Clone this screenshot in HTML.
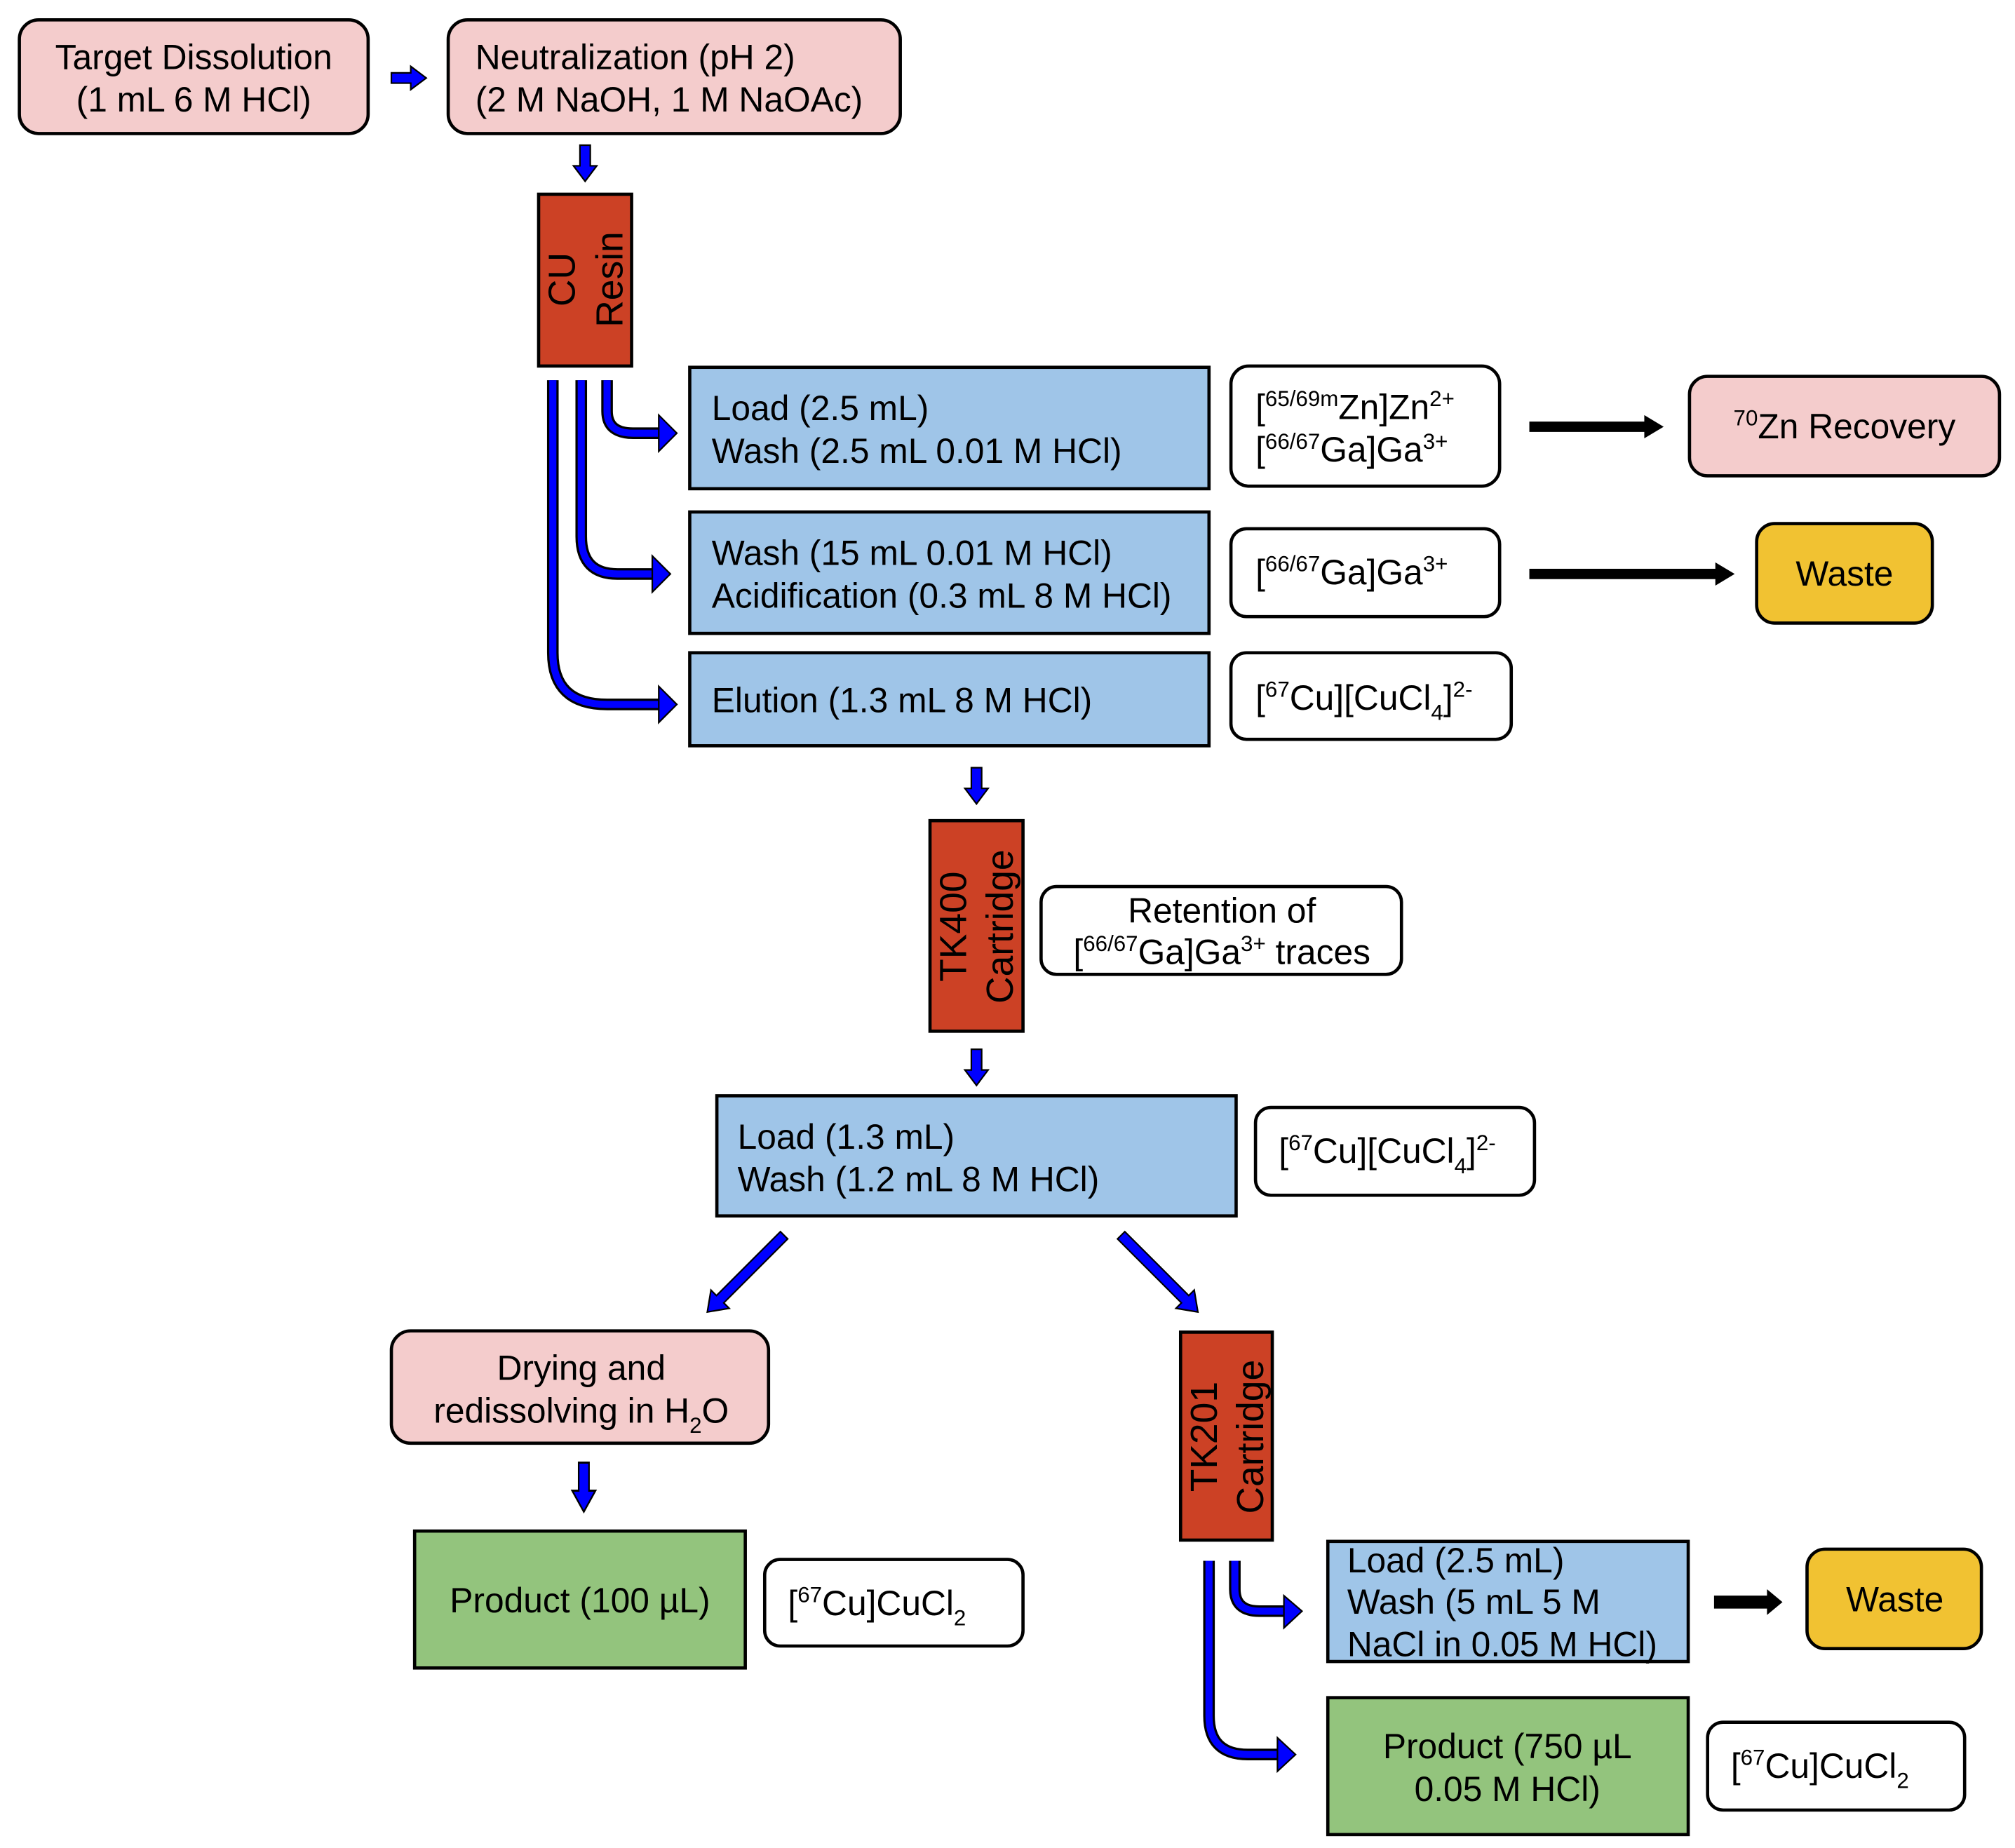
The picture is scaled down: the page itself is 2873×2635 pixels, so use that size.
<!DOCTYPE html>
<html><head><meta charset="utf-8"><style>
html,body{margin:0;padding:0;background:#fff;}
svg{display:block;}
text{font-family:"Liberation Sans",Arial,sans-serif;font-size:27px;fill:#000;}
.s{font-size:17px;}
.r{font-size:29px;}
</style></head><body>
<svg width="2873" height="2635" viewBox="0 0 1560 1430" xmlns="http://www.w3.org/2000/svg">
<defs>
<g id="dn"><polygon points="-4,0 4,0 4,16 9,16 0,28 -9,16 -4,16" fill="#0000ff" stroke="#000" stroke-width="1.2"/></g>
</defs>
<g stroke="#000" stroke-width="2.5">
<rect x="15" y="15" width="270" height="88" rx="15" fill="#f4cccc"/>
<rect x="347" y="15" width="350" height="88" rx="15" fill="#f4cccc"/>
<rect x="417" y="150" width="72" height="133" fill="#cc4125"/>
<rect x="534" y="284" width="402" height="94" fill="#9fc5e8"/>
<rect x="534" y="396" width="402" height="94" fill="#9fc5e8"/>
<rect x="534" y="505" width="402" height="72" fill="#9fc5e8"/>
<rect x="953" y="283" width="208" height="93" rx="14" fill="#fff"/>
<rect x="953" y="409" width="208" height="68" rx="12" fill="#fff"/>
<rect x="953" y="505" width="217" height="67" rx="12" fill="#fff"/>
<rect x="1308" y="291" width="240" height="77" rx="14" fill="#f4cccc"/>
<rect x="1360" y="405" width="136" height="77" rx="14" fill="#f1c232"/>
<rect x="720" y="635" width="72" height="163" fill="#cc4125"/>
<rect x="806" y="686" width="279" height="68" rx="12" fill="#fff"/>
<rect x="555" y="848" width="402" height="93" fill="#9fc5e8"/>
<rect x="972" y="857" width="216" height="68" rx="12" fill="#fff"/>
<rect x="303" y="1030" width="292" height="87" rx="15" fill="#f4cccc"/>
<rect x="321" y="1185" width="256" height="106" fill="#93c47d"/>
<rect x="592" y="1207" width="200" height="67" rx="12" fill="#fff"/>
<rect x="914" y="1031" width="71" height="161" fill="#cc4125"/>
<rect x="1028" y="1193" width="279" height="93" fill="#9fc5e8"/>
<rect x="1399" y="1199" width="135" height="77" rx="14" fill="#f1c232"/>
<rect x="1028" y="1314" width="279" height="106" fill="#93c47d"/>
<rect x="1322" y="1333" width="199" height="68" rx="12" fill="#fff"/>
</g>
<polygon points="303,56 318,56 318,51 330,60 318,69 318,64 303,64" fill="#0000ff" stroke="#000" stroke-width="1.2"/>
<use href="#dn" x="453" y="112"/>
<use href="#dn" x="756" y="594"/>
<use href="#dn" x="756" y="812"/>
<g transform="translate(452,1132) scale(1,1.36)"><use href="#dn"/></g>
<g transform="translate(607,956) rotate(45)"><polygon points="-4,0 4,0 4,70 10,70 0,84 -10,70 -4,70" fill="#0000ff" stroke="#000" stroke-width="1.2"/></g>
<g transform="translate(868,956) rotate(-45)"><polygon points="-4,0 4,0 4,70 10,70 0,84 -10,70 -4,70" fill="#0000ff" stroke="#000" stroke-width="1.2"/></g>
<g fill="none" stroke-linecap="butt">
<g stroke="#000" stroke-width="9">
<path d="M470,294 V318 Q470,335 490,335 H512"/>
<path d="M450,294 V415 Q450,444 478,444 H507"/>
<path d="M428,294 V505 Q428,545 470,545 H512"/>
<path d="M956,1208 V1230 Q956,1247 975,1247 H996"/>
<path d="M936,1208 V1328 Q936,1358 966,1358 H991"/>
</g>
<g stroke="#0000ff" stroke-width="5.5">
<path d="M470,294 V318 Q470,335 490,335 H512"/>
<path d="M450,294 V415 Q450,444 478,444 H507"/>
<path d="M428,294 V505 Q428,545 470,545 H512"/>
<path d="M956,1208 V1230 Q956,1247 975,1247 H996"/>
<path d="M936,1208 V1328 Q936,1358 966,1358 H991"/>
</g>
</g>
<g fill="#0000ff" stroke="#000" stroke-width="1.2">
<polygon points="510,321 524,335 510,349"/>
<polygon points="505,430 519,444 505,458"/>
<polygon points="510,531 524,545 510,559"/>
<polygon points="994,1235 1008,1247 994,1260"/>
<polygon points="989,1345 1003,1358 989,1371"/>
</g>
<polygon points="1184,326 1273,326 1273,321 1288,330 1273,339 1273,334 1184,334" fill="#000"/>
<polygon points="1184,440 1328,440 1328,435 1343,444 1328,453 1328,448 1184,448" fill="#000"/>
<polygon points="1327,1235 1368,1235 1368,1230 1380,1240 1368,1250 1368,1245 1327,1245" fill="#000"/>
<text x="150" y="53" text-anchor="middle">Target Dissolution</text>
<text x="150" y="86" text-anchor="middle">(1 mL 6 M HCl)</text>
<text x="368" y="53">Neutralization (pH 2)</text>
<text x="368" y="86">(2 M NaOH, 1 M NaOAc)</text>
<text class="r" transform="translate(445,216) rotate(-90)" text-anchor="middle">CU</text>
<text class="r" transform="translate(482,216) rotate(-90)" text-anchor="middle">Resin</text>
<text x="551" y="325">Load (2.5 mL)</text>
<text x="551" y="358">Wash (2.5 mL 0.01 M HCl)</text>
<text x="551" y="437">Wash (15 mL 0.01 M HCl)</text>
<text x="551" y="470">Acidification (0.3 mL 8 M HCl)</text>
<text x="551" y="551">Elution (1.3 mL 8 M HCl)</text>
<text x="972" y="324">[<tspan class="s" dy="-10">65/69m</tspan><tspan dy="10">Zn]Zn</tspan><tspan class="s" dy="-10">2+</tspan></text>
<text x="972" y="357">[<tspan class="s" dy="-10">66/67</tspan><tspan dy="10">Ga]Ga</tspan><tspan class="s" dy="-10">3+</tspan></text>
<text x="972" y="452">[<tspan class="s" dy="-10">66/67</tspan><tspan dy="10">Ga]Ga</tspan><tspan class="s" dy="-10">3+</tspan></text>
<text x="972" y="549">[<tspan class="s" dy="-10">67</tspan><tspan dy="10">Cu][CuCl</tspan><tspan class="s" dy="8">4</tspan><tspan dy="-8">]</tspan><tspan class="s" dy="-10">2-</tspan></text>
<text x="1428" y="339" text-anchor="middle"><tspan class="s" dy="-10">70</tspan><tspan dy="10">Zn Recovery</tspan></text>
<text x="1428" y="453" text-anchor="middle">Waste</text>
<text class="r" transform="translate(748,717) rotate(-90)" text-anchor="middle">TK400</text>
<text class="r" transform="translate(784,717) rotate(-90)" text-anchor="middle">Cartridge</text>
<text x="946" y="714" text-anchor="middle">Retention of</text>
<text x="946" y="746" text-anchor="middle">[<tspan class="s" dy="-10">66/67</tspan><tspan dy="10">Ga]Ga</tspan><tspan class="s" dy="-10">3+</tspan><tspan dy="10"> traces</tspan></text>
<text x="571" y="889">Load (1.3 mL)</text>
<text x="571" y="922">Wash (1.2 mL 8 M HCl)</text>
<text x="990" y="900">[<tspan class="s" dy="-10">67</tspan><tspan dy="10">Cu][CuCl</tspan><tspan class="s" dy="8">4</tspan><tspan dy="-8">]</tspan><tspan class="s" dy="-10">2-</tspan></text>
<text x="450" y="1068" text-anchor="middle">Drying and</text>
<text x="450" y="1101" text-anchor="middle">redissolving in H<tspan class="s" dy="8">2</tspan><tspan dy="-8">O</tspan></text>
<text x="449" y="1248" text-anchor="middle">Product (100 µL)</text>
<text x="610" y="1250">[<tspan class="s" dy="-10">67</tspan><tspan dy="10">Cu]CuCl</tspan><tspan class="s" dy="8">2</tspan></text>
<text class="r" transform="translate(942,1112) rotate(-90)" text-anchor="middle">TK201</text>
<text class="r" transform="translate(978,1112) rotate(-90)" text-anchor="middle">Cartridge</text>
<text x="1043" y="1217">Load (2.5 mL)</text>
<text x="1043" y="1249">Wash (5 mL 5 M</text>
<text x="1043" y="1282">NaCl in 0.05 M HCl)</text>
<text x="1467" y="1247" text-anchor="middle">Waste</text>
<text x="1167" y="1361" text-anchor="middle">Product (750 µL</text>
<text x="1167" y="1394" text-anchor="middle">0.05 M HCl)</text>
<text x="1340" y="1376">[<tspan class="s" dy="-10">67</tspan><tspan dy="10">Cu]CuCl</tspan><tspan class="s" dy="8">2</tspan></text>
</svg>
</body></html>
